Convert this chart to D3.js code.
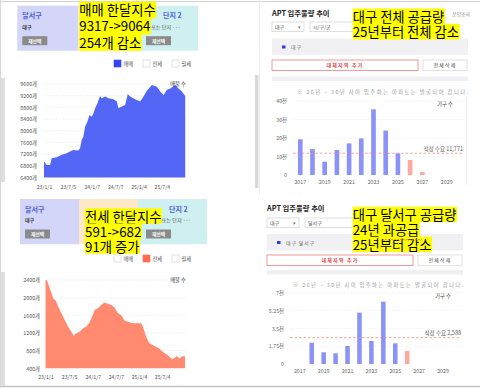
<!DOCTYPE html>
<html>
<head>
<meta charset="utf-8">
<script src="https://cdn.jsdelivr.net/npm/d3@7/dist/d3.min.js"></script>
<style>
  body { margin: 0; background: #fff; }
  svg { display: block; font-family: "Noto Sans CJK KR", "Noto Sans", sans-serif; }
</style>
</head>
<body>
<div id="chart"></div>
<script>
// 달서구 매매 매물 수
const saleDates = ['2023-01-01', '2023-01-22', '2023-02-17', '2023-03-02', '2023-04-10', '2023-05-18', '2023-06-26', '2023-07-22', '2023-08-17', '2023-09-25', '2023-10-08', '2023-10-21', '2023-11-03', '2023-11-16', '2023-12-04', '2023-12-20', '2024-01-07', '2024-01-20', '2024-02-02', '2024-02-20', '2024-03-12', '2024-03-25', '2024-04-20', '2024-05-16', '2024-06-24', '2024-07-20', '2024-08-01', '2024-08-27', '2024-09-22', '2024-10-13', '2024-10-31', '2024-12-09', '2025-01-17', '2025-02-12', '2025-03-10', '2025-04-18', '2025-05-27', '2025-06-22', '2025-07-18', '2025-08-13', '2025-09-08', '2025-10-16', '2025-11-11', '2025-12-07', '2026-01-02'];
const saleValues = [6950, 6830, 6830, 7060, 7095, 7175, 7230, 7290, 7345, 7320, 7400, 7690, 7800, 8140, 8310, 8540, 8480, 8600, 8770, 8940, 9190, 9110, 9170, 9110, 9080, 9000, 8770, 8830, 8880, 9260, 9170, 9080, 9000, 9170, 9370, 9565, 9510, 9340, 9225, 9400, 9450, 9565, 9450, 9340, 9190];

// 달서구 전세 매물 수
const jeonseDates = ['2023-01-01', '2023-01-14', '2023-01-30', '2023-02-17', '2023-03-02', '2023-03-23', '2023-04-10', '2023-05-06', '2023-06-01', '2023-06-27', '2023-07-23', '2023-08-11', '2023-08-26', '2023-09-27', '2023-10-23', '2023-11-18', '2023-12-09', '2023-12-27', '2024-01-22', '2024-02-17', '2024-03-14', '2024-04-09', '2024-05-05', '2024-05-31', '2024-06-26', '2024-07-22', '2024-08-17', '2024-09-12', '2024-10-09', '2024-11-17', '2024-12-26', '2025-01-21', '2025-02-03', '2025-03-01', '2025-03-27', '2025-04-22', '2025-05-18', '2025-06-13', '2025-07-09', '2025-08-04', '2025-08-30', '2025-09-20', '2025-10-08', '2025-10-27', '2025-11-17', '2025-12-07', '2025-12-31'];
const jeonseValues = [2400, 2385, 2250, 2100, 1985, 1930, 1800, 1645, 1495, 1345, 1230, 1130, 1180, 1230, 1305, 1345, 1420, 1530, 1720, 1760, 1835, 1890, 1860, 1835, 1775, 1645, 1610, 1480, 1455, 1420, 1420, 1420, 1345, 1115, 965, 930, 890, 850, 775, 725, 665, 605, 625, 680, 620, 665, 680];

const saleTicks = [6400, 6800, 7200, 7600, 8000, 8400, 8800, 9200, 9600];
const jeonseTicks = [400, 800, 1200, 1600, 2000, 2400];
const dateTicks = ['2023-01-01', '2023-07-05', '2024-01-07', '2024-07-07', '2025-01-04', '2025-07-04'];

// APT 입주물량 (가구 수)
const years = [2017, 2018, 2019, 2020, 2021, 2022, 2023, 2024, 2025, 2026, 2027, 2028, 2029];
const yearTicks = [2017, 2019, 2021, 2023, 2025, 2027, 2029];
const daeguSupply = [19300, 14000, 7200, 13500, 17100, 19800, 35500, 24000, 11700, 8100, 1600, 0, 0];
const dalseoSupply = [0, 2090, 1150, 1050, 1770, 5040, 2260, 6120, 2030, 1280, 0, 0, 0];
const daeguTicks = [0, 10000, 20000, 30000, 40000];
const dalseoTicks = [0, 1750, 3500, 5250, 7000];
const daeguDemand = 11771;
const dalseoDemand = 2588;
const planFrom = 2026;

const saleNote = ['매매 한달지수', '9317->9064', '254개 감소'];
const jeonseNote = ['전세 한달지수', '591->682', '91개 증가'];
const daeguNote = ['대구 전체 공급량', '25년부터 전체 감소'];
const dalseoNote = ['대구 달서구 공급량', '24년 과공급', '25년부터 감소'];

const font = '"Noto Sans CJK KR", "Noto Sans", sans-serif';
const parse = d3.timeParse('%Y-%m-%d');
const attrs = o => s => { Object.keys(o).forEach(k => s.attr(k, o[k])); };

const svg = d3.select('#chart')
  .append('svg')
  .attr('width', 480)
  .attr('height', 388);

function txt(g, x, y, s, o = {}) {
  return g.append('text')
    .call(attrs({
      x, y,
      'font-size': o.size || 5.3,
      fill: o.fill || '#444',
      'font-weight': o.weight || 'normal',
      'text-anchor': o.anchor || 'start',
      'letter-spacing': o.ls || 0,
    }))
    .text(s);
}

// screenshot frames
svg.append('line').call(attrs({ x1: 0, x2: 480, y1: 1.5, y2: 1.5, stroke: '#cfcfcf', 'stroke-width': 1 }));
svg.append('line').call(attrs({ x1: 0, x2: 480, y1: 386.5, y2: 386.5, stroke: '#c4c4c4', 'stroke-width': 1.5 }));
svg.append('line').call(attrs({ x1: 0.5, x2: 0.5, y1: 0, y2: 388, stroke: '#d8d8d8' }));
svg.append('line').call(attrs({ x1: 259.5, x2: 259.5, y1: 0, y2: 195, stroke: '#eeeeee' }));
svg.append('rect').call(attrs({ x: 1, y: 78, width: 4, height: 104, fill: '#dedede' }));
svg.append('rect').call(attrs({ x: 1, y: 272, width: 4, height: 114, fill: '#dedede' }));
svg.append('rect').call(attrs({ x: 255, y: 75, width: 3.5, height: 113, fill: '#d9d9d9' }));
svg.append('line').call(attrs({ x1: 466.5, x2: 466.5, y1: 97, y2: 185, stroke: '#ececec' }));

// 단지 선택 카드 (가운데 부분은 메모에 가려짐)
function card(g, c) {
  const cols = ['#d3d6f9', '#fde9c7', '#cff0f0'];
  g.selectAll('rect.sec')
    .data([[c.x[0], c.x[1]], [c.x[1], c.x[2]], [c.x[2], c.x[3]]])
    .join('rect')
    .call(attrs({ class: 'sec', x: d => d[0], y: c.y, width: d => d[1] - d[0], height: c.h, fill: (d, i) => cols[i] }));
  txt(g, c.x[0] + 5, c.y + 12.5, '달서구', { size: 7, fill: '#4a5fe0', weight: 'bold' });
  txt(g, c.x[0] + 5, c.y + 23, '대구', { size: 5, fill: '#333', weight: 'bold' });
  txt(g, c.name, c.y + 12.5, '단지 2', { size: 7, fill: '#4a5fe0', weight: 'bold' });
  txt(g, c.sub, c.y + 23, '또는 단지 ···', { size: 5, fill: '#444' });
  [c.x[0] + 5, c.x[2] + 8].forEach(bx => {
    g.append('rect').call(attrs({ x: bx, y: c.y + 30.5, width: 25, height: 9, fill: '#8a8a8a' }));
    txt(g, bx + 12.5, c.y + 37, '재선택', { size: 4.8, fill: '#fff', anchor: 'middle', weight: 'bold' });
  });
}

function legend(g, y, active, color) {
  ['매매', '전세', '월세'].forEach((name, i) => {
    const lx = 114 + i * 29;
    g.append('rect').call(attrs({
      x: lx, y, width: 7, height: 7,
      fill: i === active ? color : '#fff',
      stroke: i === active ? color : '#cfcfcf', 'stroke-width': 0.6,
    }));
    txt(g, lx + 9.5, y + 5.8, name, { size: 5.3, fill: '#555' });
  });
}

function areaPanel(g, o) {
  const x = d3.scaleTime()
    .domain([parse('2023-01-01'), parse('2026-01-08')])
    .range(o.xr);
  const y = d3.scaleLinear()
    .domain(d3.extent(o.ticks))
    .range(o.yr);
  const data = o.dates.map((d, i) => ({ date: parse(d), v: o.values[i] }));

  g.append('g')
    .selectAll('line')
    .data(o.ticks.slice(1))
    .join('line')
    .call(attrs({ x1: o.xr[0], x2: o.xr[1], y1: d => y(d), y2: d => y(d), stroke: '#e4e4e4', 'stroke-width': 0.5, 'stroke-dasharray': '2,1' }));

  g.append('path')
    .datum(data)
    .attr('d', d3.area().x(d => x(d.date)).y0(o.yr[0]).y1(d => y(d.v)))
    .attr('fill', o.color);

  const ya = g.append('g')
    .attr('transform', `translate(${o.xr[0]},0)`)
    .call(d3.axisLeft(y).tickValues(o.ticks).tickSize(0).tickPadding(o.ypad).tickFormat(d => d + '개'));
  ya.select('.domain').remove();
  ya.attr('font-family', font).attr('font-size', 5.3);
  ya.selectAll('text').attr('fill', '#555');

  const xa = g.append('g')
    .attr('transform', `translate(0,${o.yr[0]})`)
    .call(d3.axisBottom(x).tickValues(dateTicks.map(parse)).tickSize(0).tickPadding(o.xpad).tickFormat(d3.timeFormat('%y/%-m/%-d')));
  xa.select('.domain').remove();
  xa.attr('font-family', font).attr('font-size', 5.2);
  xa.selectAll('text').attr('fill', '#555');

  txt(g, o.xr[1], o.yr[1] + 2, '매물 수', { size: 5.3, fill: '#333', anchor: 'end' });
}

function supplyPanel(g, o) {
  const L = o.left, R = o.right;
  txt(g, L, o.head, 'APT 입주물량 추이', { size: 7.3, fill: '#222', weight: 'bold' });
  if (o.corner) txt(g, R + 2, o.head, o.corner, { size: 4.8, fill: '#888', anchor: 'end' });

  // dropdowns
  g.append('rect').call(attrs({ x: L, y: o.drop, width: 32, height: 9.5, fill: '#fff', stroke: '#c8c8c8', 'stroke-width': 0.6 }));
  txt(g, L + 3, o.drop + 6.8, '대구', { size: 5, fill: '#444' });
  txt(g, L + 26, o.drop + 6.8, '▾', { size: 5, fill: '#777' });
  g.append('rect').call(attrs({ x: L + 38, y: o.drop, width: 50, height: 9.5, fill: '#fff', stroke: '#c8c8c8', 'stroke-width': 0.6 }));
  txt(g, L + 41, o.drop + 6.8, o.sub, { size: 5, fill: '#555' });

  g.append('rect').call(attrs({ x: L, y: o.band, width: R - L, height: 16.5, fill: '#f1f1f4' }));
  g.append('rect').call(attrs({ x: L + 10, y: o.band + 7, width: 3.5, height: 3, fill: '#2b3fe0' }));
  txt(g, L + 19, o.band + 10.5, o.region, { size: 5, fill: '#666', ls: 0.8 });

  g.append('rect').call(attrs({ x: L, y: o.btn, width: 146, height: 10.5, fill: '#fff', stroke: '#f08080', 'stroke-width': 0.8 }));
  txt(g, L + 73, o.btn + 7.2, '대체지역 추가', { size: 5, fill: '#e04848', anchor: 'middle', ls: 1.2, weight: 'bold' });
  g.append('rect').call(attrs({ x: R - 45, y: o.btn, width: 44, height: 10.5, fill: '#fff', stroke: '#cccccc', 'stroke-width': 0.6 }));
  txt(g, R - 23, o.btn + 7.2, '전체삭제', { size: 5, fill: '#444', anchor: 'middle', ls: 1.2 });
  g.append('rect').call(attrs({ x: L, y: o.thin, width: R - L, height: 4.5, fill: '#f0f0f2' }));

  txt(g, R, o.note, '※ 26년 ~ 30년 사이 입주하는 아파트는 발굴되어 갑니다.', { size: 5.3, fill: '#999', anchor: 'end' })
    .attr('textLength', R - o.noteX)
    .attr('lengthAdjust', 'spacing');

  const x = d3.scaleBand()
    .domain(years)
    .range(o.xr)
    .paddingInner(0.62)
    .paddingOuter(0.12);
  const y = d3.scaleLinear()
    .domain(d3.extent(o.ticks))
    .range(o.yr);

  g.append('g')
    .selectAll('line')
    .data(o.ticks.slice(1))
    .join('line')
    .call(attrs({ x1: o.gx[0], x2: o.gx[1], y1: d => y(d), y2: d => y(d), stroke: '#ececec', 'stroke-width': 0.5, 'stroke-dasharray': '2,1' }));

  g.append('g')
    .selectAll('rect')
    .data(years.map((yr, i) => ({ yr, v: o.values[i] })).filter(d => d.v > 0))
    .join('rect')
    .call(attrs({
      x: d => x(d.yr),
      width: x.bandwidth(),
      y: d => y(d.v),
      height: d => y(0) - y(d.v),
      fill: d => d.yr >= planFrom ? '#ffa89c' : '#8b93f8',
    }));

  g.append('line').call(attrs({
    x1: o.gx[0], x2: o.gx[1], y1: y(o.demand), y2: y(o.demand),
    stroke: '#f08c84', 'stroke-width': 0.8, 'stroke-dasharray': '2.5,2',
  }));
  txt(g, o.gx[1], y(o.demand) - 2.5, '적정 수요 ' + d3.format(',')(o.demand), { size: 5.5, fill: '#555', anchor: 'end' });
  txt(g, o.gx[1] - 10, o.yr[1] + 5, '가구 수', { size: 5.3, fill: '#444', anchor: 'end' });

  const ya = g.append('g')
    .attr('transform', `translate(${o.gx[0]},0)`)
    .call(d3.axisLeft(y).tickValues(o.ticks).tickSize(0).tickPadding(6).tickFormat(d => d === 0 ? '0' : (d / 1000) + '천'));
  ya.select('.domain').remove();
  ya.attr('font-family', font).attr('font-size', 5.3);
  ya.selectAll('text').attr('fill', '#666');

  const xa = g.append('g')
    .attr('transform', `translate(0,${o.yr[0]})`)
    .call(d3.axisBottom(x).tickValues(yearTicks).tickSize(0).tickPadding(5));
  xa.select('.domain').remove();
  xa.attr('font-family', font).attr('font-size', 5.3);
  xa.selectAll('text').attr('fill', '#666');
}

// yellow highlighted memo
function highlight(g, x, top, lh, lines) {
  lines.forEach((line, i) => {
    const row = g.append('g');
    const t = row.append('text')
      .call(attrs({ x, y: top + i * lh + 13.6, 'font-size': 13.3, fill: '#000' }))
      .text(line);
    const w = t.node().getComputedTextLength();
    row.insert('rect', 'text').call(attrs({ x, y: top + i * lh, width: w + 0.5, height: lh + 0.4, fill: '#ffff00' }));
  });
}

const tl = svg.append('g');
card(tl, { x: [17.3, 78.3, 138, 198], y: 5.7, h: 45, name: 163, sub: 151.5 });
legend(tl, 60, 0, '#3346ee');
areaPanel(tl, { dates: saleDates, values: saleValues, ticks: saleTicks, xr: [44, 186], yr: [177.5, 84], ypad: 7, xpad: 8, color: '#5466f5' });

const bl = svg.append('g');
card(bl, { x: [20, 79, 138, 207], y: 199, h: 45.3, name: 169, sub: 162 });
legend(bl, 255, 1, '#ff6a4d');
areaPanel(bl, { dates: jeonseDates, values: jeonseValues, ticks: jeonseTicks, xr: [45.5, 186], yr: [368.3, 280], ypad: 5.5, xpad: 7.5, color: '#ff8a70' });

const tr = svg.append('g');
supplyPanel(tr, {
  left: 272, right: 468, head: 15.5, drop: 22, band: 38.5, btn: 60, thin: 76.5, note: 94, noteX: 297,
  sub: '시/구/군', region: '대구', corner: '분양조사',
  values: daeguSupply, ticks: daeguTicks, demand: daeguDemand,
  xr: [296.5, 450.5], yr: [175, 101], gx: [293, 463],
});

const br = svg.append('g');
supplyPanel(br, {
  left: 267, right: 463, head: 210.5, drop: 218, band: 234, btn: 255, thin: 270, note: 287, noteX: 293,
  sub: '달서구', region: '대구 달서구',
  values: dalseoSupply, ticks: dalseoTicks, demand: dalseoDemand,
  xr: [296.1, 446.7], yr: [364, 292.7], gx: [290, 461],
});

highlight(svg, 79.3, 1.5, 16.3, saleNote);
highlight(svg, 85, 208.3, 15, jeonseNote);
highlight(svg, 352.7, 8.5, 15.3, daeguNote);
highlight(svg, 352.7, 206.7, 15, dalseoNote);

// spell-check squiggle under 과공급
const wave = d3.range(0, 40, 1.5).map((d, i) => [383 + d, 239.6 + (i % 2 ? 0.8 : -0.4)]);
svg.append('path')
  .attr('d', d3.line()(wave))
  .attr('fill', 'none')
  .attr('stroke', '#e05050')
  .attr('stroke-width', 0.6);
</script>
</body>
</html>
